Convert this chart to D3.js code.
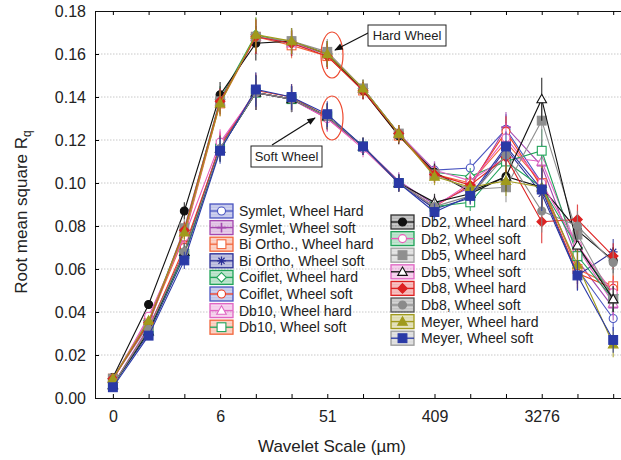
<!DOCTYPE html>
<html><head><meta charset="utf-8">
<script src="https://cdn.jsdelivr.net/npm/d3@7"></script>
<style>body{margin:0;background:#fff;} svg{display:block;font-family:"Liberation Sans",Arial,sans-serif;}</style>
</head><body>
<svg id="c" width="621" height="460"></svg>
<script>
// ---- data ----
const scaleIndex = [0,1,2,3,4,5,6,7,8,9,10,11,12,13,14];
const tickIndex = [0,3,6,9,12];
const tickLabels = ["0","6","51","409","3276"];
const yTicks = [0,0.02,0.04,0.06,0.08,0.10,0.12,0.14,0.16,0.18];
const errBars = [0.001,0.002,0.004,0.006,0.008,0.006,0.006,0.004,0.004,0.004,0.004,0.007,0.010,0.007,0.006];

const seriesNames = ["Symlet, Wheel Hard","Symlet, Wheel soft","Bi Ortho., Wheel hard","Bi Ortho, Wheel soft",
  "Coiflet, Wheel hard","Coiflet, Wheel soft","Db10, Wheel hard","Db10, Wheel soft",
  "Db2, Wheel hard","Db2, Wheel soft","Db5, Wheel hard","Db5, Wheel soft",
  "Db8, Wheel hard","Db8, Wheel soft","Meyer, Wheel hard","Meyer, Wheel soft"];

const symletHard  = [0.009,0.036,0.076,0.138,0.168,0.165,0.160,0.144,0.123,0.106,0.107,0.125,0.100,0.060,0.037];
const symletSoft  = [0.006,0.033,0.068,0.118,0.142,0.139,0.130,0.117,0.101,0.090,0.098,0.126,0.108,0.064,0.042];
const biOrthoHard = [0.009,0.035,0.075,0.137,0.168,0.164,0.159,0.143,0.122,0.104,0.100,0.119,0.100,0.060,0.052];
const biOrthoSoft = [0.006,0.030,0.066,0.116,0.142,0.139,0.131,0.117,0.100,0.088,0.093,0.116,0.095,0.057,0.068];
const coifletHard = [0.009,0.036,0.078,0.139,0.169,0.165,0.160,0.144,0.123,0.105,0.103,0.110,0.098,0.070,0.048];
const coifletSoft = [0.006,0.032,0.070,0.117,0.143,0.140,0.131,0.117,0.100,0.089,0.099,0.124,0.098,0.058,0.051];
const db10Hard    = [0.009,0.037,0.076,0.138,0.168,0.165,0.160,0.144,0.123,0.106,0.101,0.112,0.110,0.070,0.044];
const db10Soft    = [0.006,0.031,0.067,0.116,0.142,0.139,0.131,0.117,0.100,0.089,0.091,0.110,0.115,0.066,0.046];
const db2Hard     = [0.0095,0.0435,0.087,0.141,0.165,0.166,0.160,0.143,0.122,0.105,0.096,0.103,0.098,0.078,0.064];
const db2Soft     = [0.008,0.038,0.075,0.119,0.142,0.139,0.130,0.116,0.100,0.089,0.100,0.121,0.100,0.071,0.049];
const db5Hard     = [0.009,0.034,0.079,0.138,0.168,0.166,0.161,0.144,0.123,0.104,0.097,0.098,0.129,0.076,0.046];
const db5Soft     = [0.006,0.031,0.068,0.116,0.142,0.139,0.131,0.117,0.100,0.091,0.095,0.103,0.139,0.071,0.046];
const db8Hard     = [0.009,0.035,0.078,0.138,0.168,0.165,0.159,0.143,0.123,0.104,0.099,0.112,0.082,0.083,0.066];
const db8Soft     = [0.006,0.032,0.068,0.116,0.142,0.139,0.131,0.117,0.100,0.089,0.094,0.113,0.087,0.080,0.063];
const meyerHard   = [0.009,0.036,0.077,0.137,0.169,0.166,0.160,0.144,0.123,0.103,0.098,0.101,0.098,0.062,0.025];
const meyerSoft   = [0.005,0.029,0.064,0.115,0.1435,0.140,0.132,0.117,0.100,0.0865,0.094,0.117,0.097,0.057,0.027];

const seriesValues = [symletHard,symletSoft,biOrthoHard,biOrthoSoft,coifletHard,coifletSoft,db10Hard,db10Soft,
  db2Hard,db2Soft,db5Hard,db5Soft,db8Hard,db8Soft,meyerHard,meyerSoft];
const lineColors   = ["#4a55c0","#a448b0","#f2663c","#2b2f96","#22a45a","#ee3a20","#e066c4","#22a45a",
  "#111111","#e85cb8","#8f8f8f","#111111","#dd2222","#8a8a8a","#a09a1c","#2a39a6"];
const borderColors = ["#4a55c0","#a448b0","#f2663c","#2b2f96","#22a45a","#4a55c0","#e066c4","#f2663c",
  "#333333","#22a45a","#a0a0a0","#e066c4","#dd2222","#555555","#a09a1c","#9a9a9a"];
const markerShapes = ["circle","plus","square","star","diamond","circle","triangle","square",
  "circle","circle","square","triangle","diamond","circle","triangle","square"];
const markerOpen   = [true,false,true,false,true,true,true,true,false,true,false,true,false,false,false,false];

// ---- layout ----
const svg = d3.select("#c");
const plotL = 95, plotT = 11, plotB = 398;
const x = d3.scaleLinear().domain([-0.5, 14.75]).range([plotL, 640]);
const y = d3.scaleLinear().domain([0, 0.18]).range([plotB, plotT]);

// grid
svg.append("g").selectAll("line").data(yTicks.filter(v => v > 0 && v < 0.18)).join("line")
  .attr("x1", plotL).attr("x2", 621).attr("y1", d => y(d)).attr("y2", d => y(d))
  .attr("stroke", "#c8c8c8").attr("stroke-width", 1).attr("stroke-dasharray", "1.5,1.5");

// axes
const font = '"Liberation Sans",Arial,sans-serif';
const yAxis = d3.axisLeft(y).tickValues(yTicks).tickFormat(d3.format(".2f")).tickSize(-4).tickPadding(9);
const gy = svg.append("g").attr("transform", `translate(${plotL},0)`).call(yAxis);
gy.selectAll("text").attr("font-size", 16).attr("font-family", font).attr("fill", "#222");
gy.select(".domain").attr("stroke", "#111");

const xAxis = d3.axisBottom(x).tickValues(scaleIndex).tickSize(-4).tickPadding(13)
  .tickFormat(d => { const k = tickIndex.indexOf(d); return k >= 0 ? tickLabels[k] : ""; });
const gx = svg.append("g").attr("transform", `translate(0,${plotB})`).call(xAxis);
gx.selectAll("text").attr("font-size", 16).attr("font-family", font).attr("fill", "#222");
gx.select(".domain").attr("stroke", "#111");

const xTop = d3.axisTop(x).tickValues(scaleIndex).tickSize(-4).tickFormat("");
const gt = svg.append("g").attr("transform", `translate(0,${plotT})`).call(xTop);
gt.select(".domain").attr("stroke", "#111");

// axis titles
svg.append("text").attr("x", 332).attr("y", 452).attr("text-anchor", "middle")
  .attr("font-size", 17).attr("fill", "#222").text("Wavelet Scale (µm)");
const yt = svg.append("text").attr("transform", "translate(27,212) rotate(-90)")
  .attr("text-anchor", "middle").attr("font-size", 17).attr("fill", "#222");
yt.append("tspan").text("Root mean square R");
yt.append("tspan").attr("font-size", 12).attr("dy", 4).text("q");

// marker drawing
function drawMarker(g, shape, cx, cy, color, open, s) {
  const fill = open ? "#fff" : color;
  if (shape === "circle") {
    g.append("circle").attr("cx", cx).attr("cy", cy).attr("r", s*0.5).attr("fill", fill).attr("stroke", color).attr("stroke-width", 1.1);
  } else if (shape === "square") {
    const w = s*1.1;
    g.append("rect").attr("x", cx-w/2).attr("y", cy-w/2).attr("width", w).attr("height", w).attr("fill", fill).attr("stroke", color).attr("stroke-width", 1.1);
  } else if (shape === "triangle") {
    const h = s*0.6;
    g.append("path").attr("d", `M${cx},${cy-h}L${cx+h},${cy+h*0.75}L${cx-h},${cy+h*0.75}Z`).attr("fill", fill).attr("stroke", color).attr("stroke-width", 1.1);
  } else if (shape === "diamond") {
    const h = s*0.6;
    g.append("path").attr("d", `M${cx},${cy-h}L${cx+h},${cy}L${cx},${cy+h}L${cx-h},${cy}Z`).attr("fill", fill).attr("stroke", color).attr("stroke-width", 1.1);
  } else if (shape === "plus") {
    const h = s*0.6;
    g.append("path").attr("d", `M${cx-h},${cy}H${cx+h}M${cx},${cy-h}V${cy+h}`).attr("stroke", color).attr("stroke-width", 1.6);
  } else if (shape === "star") {
    const h = s*0.55;
    g.append("path").attr("d", `M${cx-h},${cy}H${cx+h}M${cx},${cy-h}V${cy+h}M${cx-h*0.7},${cy-h*0.7}L${cx+h*0.7},${cy+h*0.7}M${cx-h*0.7},${cy+h*0.7}L${cx+h*0.7},${cy-h*0.7}`)
      .attr("stroke", color).attr("stroke-width", 1.2);
  }
}

// series
const line = d3.line().x((d, i) => x(scaleIndex[i])).y(d => y(d));
const plot = svg.append("g");
seriesValues.forEach((vals, si) => {
  const g = plot.append("g");
  const c = lineColors[si];
  vals.forEach((v, i) => {
    g.append("line").attr("x1", x(scaleIndex[i])).attr("x2", x(scaleIndex[i]))
      .attr("y1", y(v + errBars[i])).attr("y2", y(v - errBars[i]))
      .attr("stroke", c).attr("stroke-width", 1.2).attr("opacity", 0.8);
  });
  g.append("path").attr("d", line(vals)).attr("fill", "none").attr("stroke", c).attr("stroke-width", 1.1);
  vals.forEach((v, i) => drawMarker(g, markerShapes[si], x(scaleIndex[i]), y(v), c, markerOpen[si], 8));
});

// legends
function legend(startIdx, count, bx, by, tx) {
  for (let k = 0; k < count; k++) {
    const si = startIdx + k;
    const cy = by + k * 16.6;
    const g = svg.append("g");
    g.append("rect").attr("x", bx).attr("y", cy - 7).attr("width", 23).attr("height", 14)
      .attr("fill", borderColors[si]).attr("fill-opacity", 0.35).attr("stroke", borderColors[si]).attr("stroke-width", 1.3);
    for (let hy = cy - 5; hy <= cy + 5; hy += 2.5) {
      g.append("line").attr("x1", bx + 1).attr("x2", bx + 22).attr("y1", hy).attr("y2", hy)
        .attr("stroke", "#fff").attr("stroke-opacity", 0.35).attr("stroke-width", 0.8);
    }
    g.append("line").attr("x1", bx).attr("x2", bx + 23).attr("y1", cy).attr("y2", cy)
      .attr("stroke", lineColors[si]).attr("stroke-width", 1.3);
    drawMarker(g, markerShapes[si], bx + 11.5, cy, lineColors[si], markerOpen[si], 8);
    g.append("text").attr("x", tx).attr("y", cy + 5).attr("font-size", 14).attr("fill", "#222").text(seriesNames[si]);
  }
}
legend(0, 8, 210, 211, 239);
legend(8, 8, 391, 222, 421);

// annotations
const defs = svg.append("defs");
defs.append("marker").attr("id", "ah").attr("viewBox", "0 0 10 10").attr("refX", 9).attr("refY", 5)
  .attr("markerWidth", 9).attr("markerHeight", 7).attr("orient", "auto-start-reverse")
  .append("path").attr("d", "M0,1L10,5L0,9Z").attr("fill", "#111");

svg.append("ellipse").attr("cx", 332).attr("cy", 55).attr("rx", 11).attr("ry", 23)
  .attr("fill", "none").attr("stroke", "#ee4a30").attr("stroke-width", 1.2);
svg.append("ellipse").attr("cx", 332).attr("cy", 118).attr("rx", 11).attr("ry", 22)
  .attr("fill", "none").attr("stroke", "#ee4a30").attr("stroke-width", 1.2);

svg.append("line").attr("x1", 370).attr("y1", 32).attr("x2", 335).attr("y2", 50)
  .attr("stroke", "#111").attr("stroke-width", 1.2).attr("marker-end", "url(#ah)");
svg.append("line").attr("x1", 272).attr("y1", 145).attr("x2", 315).attr("y2", 118)
  .attr("stroke", "#111").attr("stroke-width", 1.2).attr("marker-end", "url(#ah)");

svg.append("rect").attr("x", 368).attr("y", 25).attr("width", 78).attr("height", 21)
  .attr("fill", "#fff").attr("stroke", "#222").attr("stroke-width", 1);
svg.append("text").attr("x", 407).attr("y", 40).attr("text-anchor", "middle").attr("font-size", 13).attr("fill", "#222").text("Hard Wheel");
svg.append("rect").attr("x", 251).attr("y", 146).attr("width", 71).attr("height", 21)
  .attr("fill", "#fff").attr("stroke", "#222").attr("stroke-width", 1);
svg.append("text").attr("x", 286.5).attr("y", 161).attr("text-anchor", "middle").attr("font-size", 13).attr("fill", "#222").text("Soft Wheel");
</script>
</body></html>
